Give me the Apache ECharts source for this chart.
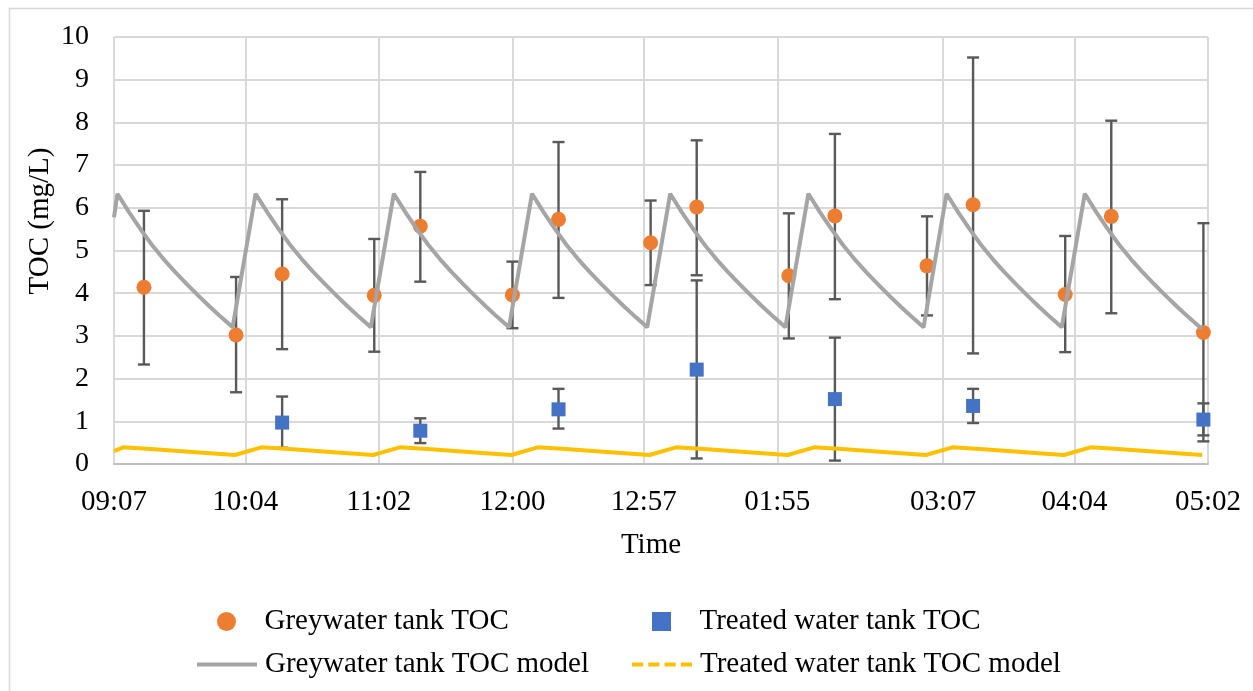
<!DOCTYPE html>
<html>
<head>
<meta charset="utf-8">
<script src="https://cdn.jsdelivr.net/npm/echarts@6/dist/echarts.min.js"></script>
<style>
  html, body { margin: 0; padding: 0; background: #fff; }
  #main { width: 1253px; height: 691px; }
</style>
</head>
<body>
<div id="main"></div>
<script>
// x values are minutes elapsed since 09:07
const tickMinutes = [0, 57, 115, 173, 230, 288, 360, 417, 475];
const tickLabels = ['09:07', '10:04', '11:02', '12:00', '12:57', '01:55', '03:07', '04:04', '05:02'];

const greyTimes = [13, 53, 73, 113, 133, 173, 193, 233, 253, 293, 313, 353, 373, 413, 433, 473];
const greyTOC = [4.14, 3.02, 4.45, 3.95, 5.57, 3.96, 5.73, 5.18, 6.02, 4.41, 5.81, 4.64, 6.07, 3.97, 5.80, 3.08];
const greyHigh = [5.93, 4.38, 6.20, 5.27, 6.84, 4.74, 7.54, 6.17, 7.58, 5.87, 7.73, 5.80, 9.52, 5.34, 8.04, 5.64];
const greyLow = [2.33, 1.68, 2.69, 2.63, 4.27, 3.18, 3.89, 4.19, 4.42, 2.94, 3.86, 3.48, 2.59, 2.62, 3.53, 0.67];

const treatedTimes = [73, 133, 193, 253, 313, 373, 473];
const treatedTOC = [0.97, 0.78, 1.28, 2.21, 1.52, 1.36, 1.04];
const treatedHigh = [1.58, 1.07, 1.76, 4.30, 2.96, 1.76, 1.42];
const treatedLow = [0.38, 0.49, 0.83, 0.13, 0.08, 0.96, 0.53];

const greyModel = [
  [0, 5.78], [1.5, 6.33], [6.5, 5.9], [11.5, 5.5], [16.5, 5.13], [21.5, 4.8], [26.5, 4.5], [31.5, 4.22], [36.5, 3.95], [41.5, 3.69], [46.5, 3.44], [51.5, 3.2],
  [61.5, 6.33], [66.5, 5.9], [71.5, 5.5], [76.5, 5.13], [81.5, 4.8], [86.5, 4.5], [91.5, 4.22], [96.5, 3.95], [101.5, 3.69], [106.5, 3.44], [111.5, 3.2],
  [121.5, 6.33], [126.5, 5.9], [131.5, 5.5], [136.5, 5.13], [141.5, 4.8], [146.5, 4.5], [151.5, 4.22], [156.5, 3.95], [161.5, 3.69], [166.5, 3.44], [171.5, 3.2],
  [181.5, 6.33], [186.5, 5.9], [191.5, 5.5], [196.5, 5.13], [201.5, 4.8], [206.5, 4.5], [211.5, 4.22], [216.5, 3.95], [221.5, 3.69], [226.5, 3.44], [231.5, 3.2],
  [241.5, 6.33], [246.5, 5.9], [251.5, 5.5], [256.5, 5.13], [261.5, 4.8], [266.5, 4.5], [271.5, 4.22], [276.5, 3.95], [281.5, 3.69], [286.5, 3.44], [291.5, 3.2],
  [301.5, 6.33], [306.5, 5.9], [311.5, 5.5], [316.5, 5.13], [321.5, 4.8], [326.5, 4.5], [331.5, 4.22], [336.5, 3.95], [341.5, 3.69], [346.5, 3.44], [351.5, 3.2],
  [361.5, 6.33], [366.5, 5.9], [371.5, 5.5], [376.5, 5.13], [381.5, 4.8], [386.5, 4.5], [391.5, 4.22], [396.5, 3.95], [401.5, 3.69], [406.5, 3.44], [411.5, 3.2],
  [421.5, 6.33], [426.5, 5.9], [431.5, 5.5], [436.5, 5.13], [441.5, 4.8], [446.5, 4.5], [451.5, 4.22], [456.5, 3.95], [461.5, 3.69], [466.5, 3.44], [471.5, 3.2], [472.5, 3.18]
];

const treatedModel = [
  [0, 0.30], [4, 0.39], [16, 0.35], [28, 0.305], [40, 0.26], [52.5, 0.21],
  [64, 0.39], [76, 0.35], [88, 0.305], [100, 0.26], [112.5, 0.21],
  [124, 0.39], [136, 0.35], [148, 0.305], [160, 0.26], [172.5, 0.21],
  [184, 0.39], [196, 0.35], [208, 0.305], [220, 0.26], [232.5, 0.21],
  [244, 0.39], [256, 0.35], [268, 0.305], [280, 0.26], [292.5, 0.21],
  [304, 0.39], [316, 0.35], [328, 0.305], [340, 0.26], [352.5, 0.21],
  [364, 0.39], [376, 0.35], [388, 0.305], [400, 0.26], [412.5, 0.21],
  [424, 0.39], [436, 0.35], [448, 0.305], [460, 0.26], [472.5, 0.21]
];

const FONT = 'Liberation Serif';

function renderErrorBar(params, api) {
  const x = api.value(0);
  const lo = api.coord([x, api.value(1)]);
  const hi = api.coord([x, api.value(2)]);
  const cap = 6;
  const style = { stroke: '#595959', lineWidth: 2.4 };
  return {
    type: 'group',
    children: [
      { type: 'line', shape: { x1: hi[0], y1: hi[1], x2: lo[0], y2: lo[1] }, style: style },
      { type: 'line', shape: { x1: hi[0] - cap, y1: hi[1], x2: hi[0] + cap, y2: hi[1] }, style: style },
      { type: 'line', shape: { x1: lo[0] - cap, y1: lo[1], x2: lo[0] + cap, y2: lo[1] }, style: style }
    ]
  };
}

const chart = echarts.init(document.getElementById('main'), null, { renderer: 'canvas' });

const legendBase = {
  padding: 0,
  itemWidth: 60,
  itemHeight: 19,
  selectedMode: false,
  textStyle: { fontFamily: FONT, fontSize: 29, color: '#000', padding: [0, 0, 0, 3] }
};

const option = {
  animation: false,
  backgroundColor: '#fff',
  grid: { left: 114, right: 45, top: 37, bottom: 227 },
  xAxis: {
    type: 'value',
    min: 0,
    max: 475,
    axisLine: { show: true, lineStyle: { color: '#BFBFBF', width: 2 } },
    axisTick: { show: false, customValues: tickMinutes },
    splitLine: { show: true, lineStyle: { color: '#D9D9D9', width: 2 } },
    axisLabel: {
      customValues: tickMinutes,
      margin: 24,
      fontFamily: FONT,
      fontSize: 29,
      color: '#000',
      formatter: function (v) {
        const i = tickMinutes.indexOf(v);
        return i >= 0 ? tickLabels[i] : '';
      }
    }
  },
  yAxis: {
    type: 'value',
    min: 0,
    max: 10,
    interval: 1,
    axisLine: { show: false },
    axisTick: { show: false },
    splitLine: { show: true, lineStyle: { color: '#D9D9D9', width: 2 } },
    axisLabel: { margin: 25, fontFamily: FONT, fontSize: 28, color: '#000', padding: [6, 0, 0, 0] }
  },
  legend: [
    Object.assign({}, legendBase, {
      left: 217, top: 607,
      data: [{ name: 'Greywater tank TOC', icon: 'circle' }]
    }),
    Object.assign({}, legendBase, {
      left: 652, top: 607,
      data: [{ name: 'Treated water tank TOC', icon: 'path://M0,0H10V10H0Z' }]
    }),
    Object.assign({}, legendBase, {
      left: 197, top: 650,
      data: [{ name: 'Greywater tank TOC model', icon: 'path://M0,0H60V4H0Z', itemStyle: { color: '#A5A5A5' } }]
    }),
    Object.assign({}, legendBase, {
      left: 632, top: 650,
      data: [{
        name: 'Treated water tank TOC model',
        icon: 'path://M0,0H11V4H0Z M16,0H27V4H16Z M32,0H43V4H32Z M48,0H59V4H48Z',
        itemStyle: { color: '#FFC000' }
      }]
    })
  ],
  graphic: [
    {
      type: 'rect',
      left: 7, top: 6,
      shape: { width: 1300, height: 800 },
      style: { fill: 'none', stroke: '#D9D9D9', lineWidth: 1.5 },
      silent: true
    },
    {
      type: 'text',
      x: 40, y: 221,
      rotation: Math.PI / 2,
      style: {
        text: 'TOC (mg/L)', fontFamily: FONT, fontSize: 29, fill: '#000',
        align: 'center', verticalAlign: 'middle'
      }
    },
    {
      type: 'text',
      x: 651, y: 545,
      style: {
        text: 'Time', fontFamily: FONT, fontSize: 29, fill: '#000',
        align: 'center', verticalAlign: 'middle'
      }
    }
  ],
  series: [
    {
      name: 'Greywater tank TOC error',
      type: 'custom',
      renderItem: renderErrorBar,
      encode: { x: 0, y: [1, 2] },
      z: 1,
      silent: true,
      data: greyTimes.map((t, i) => [t, greyLow[i], greyHigh[i]])
    },
    {
      name: 'Treated water tank TOC error',
      type: 'custom',
      renderItem: renderErrorBar,
      encode: { x: 0, y: [1, 2] },
      z: 1,
      silent: true,
      data: treatedTimes.map((t, i) => [t, treatedLow[i], treatedHigh[i]])
    },
    {
      name: 'Greywater tank TOC',
      type: 'scatter',
      symbol: 'circle',
      symbolSize: 15,
      z: 2,
      itemStyle: { color: '#ED7D31', opacity: 1 },
      data: greyTimes.map((t, i) => [t, greyTOC[i]])
    },
    {
      name: 'Treated water tank TOC',
      type: 'scatter',
      symbol: 'rect',
      symbolSize: 14,
      z: 2,
      itemStyle: { color: '#4472C4', opacity: 1 },
      data: treatedTimes.map((t, i) => [t, treatedTOC[i]])
    },
    {
      name: 'Greywater tank TOC model',
      type: 'line',
      symbol: 'none',
      smooth: false,
      z: 3,
      itemStyle: { color: '#A5A5A5' },
      lineStyle: { color: '#A5A5A5', width: 4 },
      data: greyModel
    },
    {
      name: 'Treated water tank TOC model',
      type: 'line',
      symbol: 'none',
      smooth: false,
      z: 3,
      itemStyle: { color: '#FFC000' },
      lineStyle: { color: '#FFC000', width: 4 },
      data: treatedModel
    }
  ]
};

chart.setOption(option);
</script>
</body>
</html>
